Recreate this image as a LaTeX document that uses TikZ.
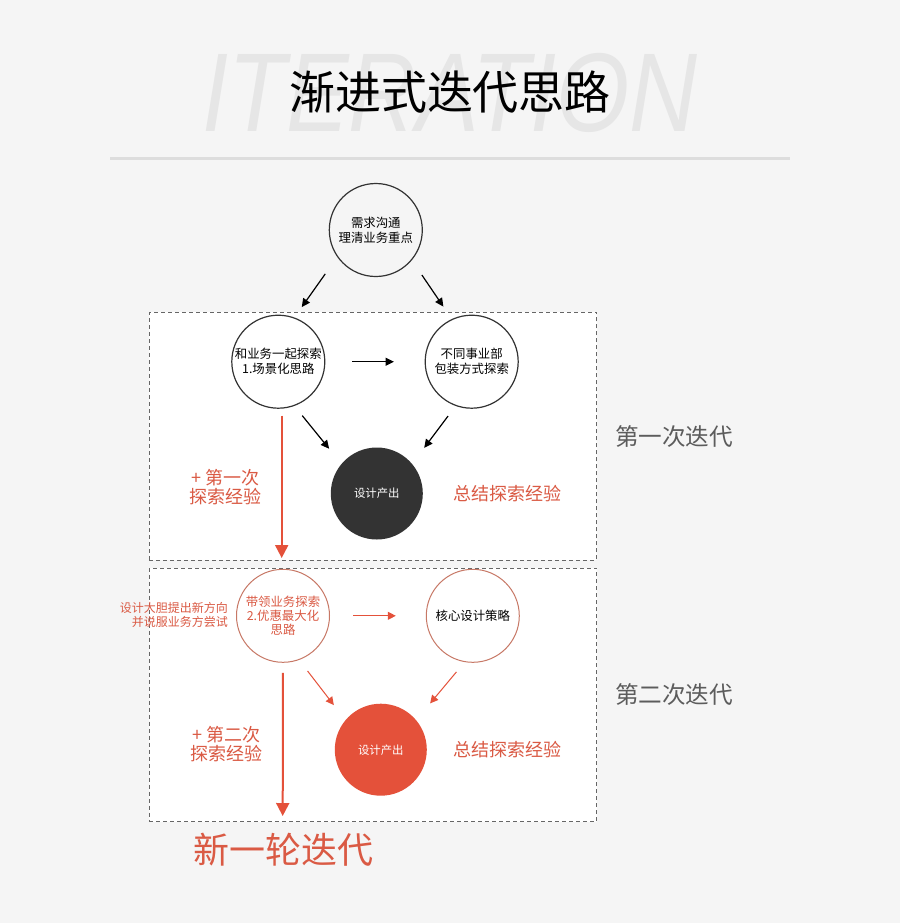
\documentclass[tikz,border=0pt]{standalone}
\usepackage{fontspec}
\setmainfont{Noto Sans CJK SC}
\newfontfamily\latinfont{Liberation Sans}
\usetikzlibrary{arrows.meta}
\definecolor{fondo}{HTML}{F5F5F5}
\definecolor{coral}{HTML}{E4513A}
\definecolor{coralTxt}{HTML}{DA5A44}
\definecolor{coralBorde}{HTML}{C77866}
\definecolor{grisLinea}{HTML}{DDDDDD}
\definecolor{grisMarca}{HTML}{E6E6E6}
\definecolor{grisTxt}{HTML}{5C5C5C}
\definecolor{oscuro}{HTML}{333333}

\begin{document}
\begin{tikzpicture}[x=0.5pt,y=-0.5pt,>=Stealth,
  paso/.style={circle,draw=oscuro,line width=.6pt,minimum size=46.5pt,inner sep=0pt,
    align=center,font=\fontsize{6.2}{7.5}\selectfont},
  pasoRojo/.style={paso,draw=coralBorde,line width=.5pt,fill=white},
  salida/.style={circle,minimum size=46pt,inner sep=0pt,text=white,font=\fontsize{5.7}{6}\selectfont},
  caja/.style={draw=gray!80!black,line width=.5pt,dash pattern=on 2pt off 1.5pt,fill=white,
    minimum width=223.7pt,inner sep=0pt,outer sep=0pt},
  flecha/.style={line width=.6pt,-{Triangle[length=4.2pt,width=4pt]}},
  flechaRoja/.style={coral,line width=.5pt,-{Triangle[length=4pt,width=4pt]}},
  flechaGrande/.style={coral,line width=1pt,-{Triangle[length=6.5pt,width=6.5pt]}},
  rotulo/.style={text=coralTxt,align=center,font=\fontsize{9}{9.5}\selectfont},
  iter/.style={text=grisTxt,font=\fontsize{11.8}{12}\selectfont}]
  % fondo y cabecera
  \fill[fondo] (0,0) rectangle (900,923);
  \node[text=grisMarca,font=\latinfont\itshape\fontsize{56}{56}\selectfont] (marca) at (450,93)
    {\scalebox{0.84}[1]{ITERATION}};
  \node[font=\fontsize{23}{23}\selectfont] (titulo) at (450,92.5) {渐进式迭代思路};
  \draw[grisLinea,line width=1.5pt] (110,158) -- (790,158);
  % las dos vueltas
  \node[caja,minimum height=123.85pt] (caja1) at (373,436.2) {};
  \node[caja,minimum height=126.85pt] (caja2) at (373,694.9) {};
  % circulos
  \node[paso] (q) at (375.8,230) {需求沟通\\理清业务重点};
  \node[paso,fill=white] (a) at (278.3,361.7) {和业务一起探索\\1.场景化思路};
  \node[paso,fill=white] (b) at (471.7,361.7) {不同事业部\\包装方式探索};
  \node[salida,fill=oscuro] (dk) at (376.8,493.5) {设计产出};
  \node[pasoRojo,text=coralTxt,font=\fontsize{6.2}{7}\selectfont] (c) at (283,615.8)
    {带领业务探索\\2.优惠最大化\\思路};
  \node[pasoRojo] (d) at (472.8,615.8) {核心设计策略};
  \node[salida,fill=coral] (rc) at (380.8,749.7) {设计产出};
  % flechas
  \draw[flecha,shorten <=10.35pt,shorten >=6.35pt] (q.215) -- (a.70);
  \draw[flecha,shorten <=8.9pt,shorten >=7.5pt] (q.320) -- (b.115);
  \draw[flecha,shorten <=13.5pt,shorten >=15.35pt] (a.east) -- (b.west);
  \draw[flecha,shorten <=6.2pt,shorten >=9.6pt] (a.290) -- (dk.140);
  \draw[flecha,shorten <=6.3pt,shorten >=9.9pt] (b.250) -- (dk.40);
  \draw[flechaRoja,shorten <=11.5pt,shorten >=15pt] (c.east) -- (d.west);
  \draw[flechaRoja,shorten <=6.95pt,shorten >=9.35pt] (c.290) -- (rc.140);
  \draw[flechaRoja,shorten <=6.4pt,shorten >=10.75pt] (d.260) -- (rc.40);
  \coordinate (fin1) at (281.7,558);
  \coordinate (fin2) at (282.7,816);
  \draw[flechaGrande,shorten <=3.4pt] ([xshift=1.7pt]a.south) -- (fin1);
  \draw[flechaGrande,shorten <=5pt] (c.south) -- (fin2);
  % textos
  \node[rotulo] (exp1) at (225.7,487) {+ 第一次\\探索经验};
  \node[rotulo] (sum1) at (507,493.3) {总结探索经验};
  \node[iter] (it1) at (674,436.7) {第一次迭代};
  \node[rotulo] (exp2) at (226.7,744.5) {+ 第二次\\探索经验};
  \node[rotulo] (sum2) at (507,749.3) {总结探索经验};
  \node[iter] (it2) at (674,695) {第二次迭代};
  \node[text=coralTxt,align=right,anchor=east,inner sep=0pt,font=\fontsize{6}{6.7}\selectfont]
    (nota) at (228.3,615) {设计大胆提出新方向\\并说服业务方尝试};
  \node[text=coralTxt,font=\fontsize{18}{18}\selectfont] (nueva) at (283.3,850) {新一轮迭代};
\end{tikzpicture}
\end{document}
